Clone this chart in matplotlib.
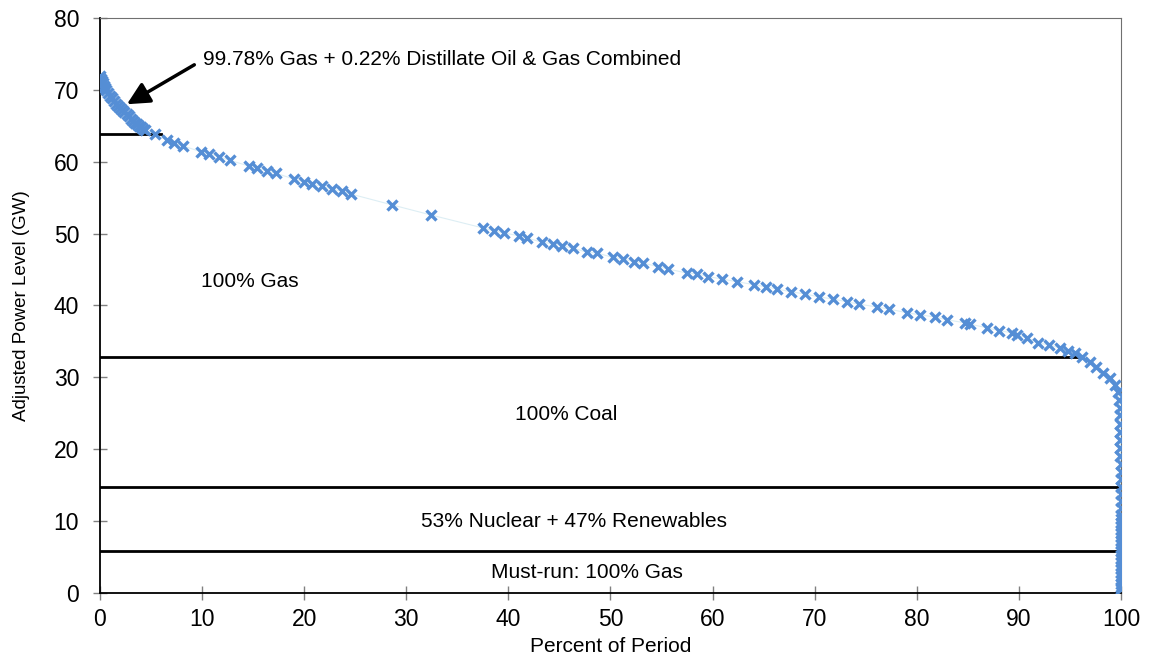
import numpy as np
import matplotlib

matplotlib.use("Agg")
import matplotlib.pyplot as plt

plt.rcParams["font.family"] = ["Liberation Sans", "DejaVu Sans"]

# load duration curve: percent of period vs adjusted power level (GW)
pct = [
    0.0, 0.1, 0.2, 0.3, 0.4, 0.5, 0.6, 0.8, 1.0, 1.2, 1.4, 1.6, 1.8, 2.0,
    2.2, 2.4, 2.6, 2.8, 3.0, 3.2, 3.4, 3.6, 3.8, 4.0, 4.2, 4.4,
    5.4, 6.6, 7.3, 8.1, 9.9, 10.7, 11.7, 12.7, 14.6, 15.4, 16.4, 17.2,
    19.0, 20.0, 20.8, 21.7, 22.7, 23.7, 24.6, 28.6, 32.4,
    37.5, 38.6, 39.6, 41.0, 41.8, 43.3, 44.4, 45.3, 46.3, 47.7, 48.7,
    50.2, 51.2, 52.3, 53.2, 54.7, 55.6, 57.5, 58.5, 59.6, 60.9, 62.4,
    64.1, 65.2, 66.3, 67.7, 69.1, 70.4, 71.8, 73.2, 74.3, 76.1, 77.3,
    79.0, 80.3, 81.8, 83.0, 84.7, 85.2, 86.9, 88.1, 89.3, 89.8, 90.8,
    91.9, 93.0, 94.0, 94.8, 95.5, 96.2, 97.0, 97.6, 98.2, 98.9, 99.4,
    # steep tail
    99.7, 99.85, 99.9, 99.9, 99.92, 99.93, 99.94, 99.95, 99.95, 99.96,
    99.96, 99.97, 99.97, 99.97, 99.98, 99.98, 99.98, 99.98, 99.99,
    99.99, 99.99, 99.99, 99.99, 100.0, 100.0, 100.0, 100.0, 100.0,
    100.0, 100.0, 100.0, 100.0, 100.0, 100.0, 100.0, 100.0, 100.0,
    100.0,
]
power = [
    71.9, 71.5, 71.2, 70.9, 70.6, 70.3, 70.0, 69.6, 69.2, 68.8, 68.4,
    68.1, 67.8, 67.5, 67.2, 66.9, 66.6, 66.3, 66.0, 65.7, 65.4, 65.2,
    65.0, 64.8, 64.6, 64.4,
    63.8, 63.0, 62.6, 62.2, 61.4, 61.1, 60.7, 60.2, 59.4, 59.1, 58.7,
    58.4, 57.6, 57.2, 56.9, 56.6, 56.2, 55.9, 55.5, 54.0, 52.6,
    50.8, 50.4, 50.1, 49.7, 49.4, 48.8, 48.6, 48.3, 48.0, 47.4, 47.3,
    46.7, 46.5, 46.1, 45.9, 45.4, 45.1, 44.5, 44.4, 44.0, 43.7, 43.3,
    42.9, 42.6, 42.3, 41.9, 41.6, 41.2, 40.9, 40.5, 40.2, 39.8, 39.5,
    39.0, 38.7, 38.4, 38.0, 37.6, 37.4, 36.9, 36.5, 36.2, 35.9, 35.5,
    34.8, 34.5, 34.1, 33.7, 33.4, 32.8, 32.1, 31.4, 30.6, 29.9, 28.9,
    # steep tail
    28.0, 26.9, 25.8, 24.7, 23.5, 22.4, 21.3, 20.2, 19.1, 18.0, 16.9,
    15.8, 14.8, 13.8, 12.8, 11.8, 10.8, 10.3, 9.8, 9.3, 8.8, 8.3, 7.8,
    7.3, 6.8, 6.3, 5.8, 5.3, 4.8, 4.3, 3.8, 3.3, 2.8, 2.3, 1.8, 1.3,
    0.9, 0.5,
]

# dispatch levels (GW) and where each boundary line stops (% of period)
levels = [63.8, 32.8, 14.8, 5.8]
level_end = [6.0, 95.8, 99.7, 99.6]

labels = [
    "100% Gas",
    "100% Coal",
    "53% Nuclear + 47% Renewables",
    "Must-run: 100% Gas",
]
label_x = [14.7, 45.7, 46.4, 47.7]
label_y = [43.4, 24.8, 9.9, 2.8]

fig = plt.figure(figsize=(11.49, 6.56), dpi=100)
ax = fig.add_axes([0.087, 0.096, 0.8886, 0.8766])

ax.plot(pct, power, color="#DDEEF4", lw=0.8, zorder=2)
ax.plot(pct, power, ls="none", marker="x", ms=6.5, mew=2.4,
        color="#558ED5", zorder=3)

for lv, xe in zip(levels, level_end):
    ax.plot([0, xe], [lv, lv], color="black", lw=2, zorder=2)

for txt, tx, ty in zip(labels, label_x, label_y):
    ax.text(tx, ty, txt, ha="center", va="center", fontsize=15)

ax.annotate("99.78% Gas + 0.22% Distillate Oil & Gas Combined",
            xy=(2.64, 68.0), xytext=(10.1, 74.2),
            ha="left", va="center", fontsize=15,
            arrowprops=dict(arrowstyle="-|>,head_length=0.9,head_width=0.45",
                            color="black", lw=2.5, relpos=(0, 0.5),
                            shrinkA=5, shrinkB=0))

ax.set_xlim(0, 100)
ax.set_ylim(0, 80)
ax.set_xticks(range(0, 101, 10))
ax.set_yticks(range(0, 81, 10))
ax.tick_params(direction="inout", length=10, width=1, color="#808080",
               labelsize=16.5)
ax.tick_params(axis="y", pad=10)
ax.tick_params(axis="x", pad=6)

ax.spines["left"].set_color("black")
ax.spines["bottom"].set_color("black")
ax.spines["left"].set_linewidth(1.3)
ax.spines["bottom"].set_linewidth(1.3)
ax.spines["top"].set_color("#707070")
ax.spines["right"].set_color("#707070")

ax.set_xlabel("Percent of Period", fontsize=15, labelpad=4)
ax.set_ylabel("Adjusted Power Level (GW)", fontsize=13.5, labelpad=17)

fig.savefig("out.png", dpi=100)
